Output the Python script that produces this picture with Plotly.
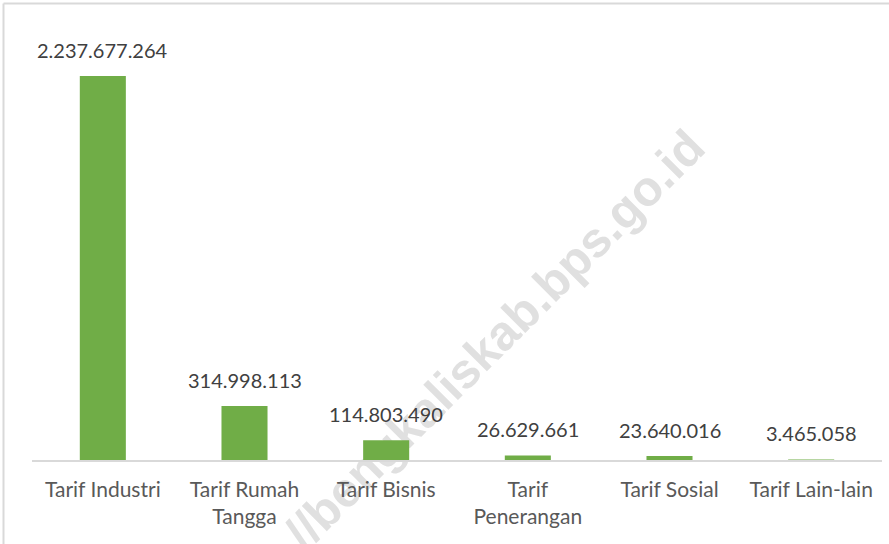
import plotly.graph_objects as go

categories = ["Tarif Industri", "Tarif Rumah<br>Tangga", "Tarif Bisnis",
              "Tarif<br>Penerangan", "Tarif Sosial", "Tarif Lain-lain"]
values = [2237677264, 314998113, 114803490, 26629661, 23640016, 3465058]
value_labels = ["2.237.677.264", "314.998.113", "114.803.490",
                "26.629.661", "23.640.016", "3.465.058"]
watermark = "//bengkaliskab.bps.go.id"

W, H = 889, 544
ML, MR, MT, MB = 32, 7, 20, 84
PW, PH = W - ML - MR, H - MT - MB


def xp(px):
    return (px - ML) / PW


def yp(py):
    return (H - MB - py) / PH


FONT = "Lato, 'Open Sans', sans-serif"

fig = go.Figure()
fig.add_trace(go.Bar(
    x=categories, y=values,
    marker=dict(color="#70AD47", line=dict(width=0)),
    hoverinfo="skip",
))

annotations = []
for c, v, t in zip(categories, values, value_labels):
    annotations.append(dict(
        x=c, y=v, xref="x", yref="y", text=t, showarrow=False,
        yanchor="bottom", yshift=12,
        font=dict(family=FONT, size=20, color="#404040"),
    ))

border = dict(color="#d9d9d9", width=2)
shapes = [
    # outer frame: top and left edges visible in the crop
    dict(type="line", xref="paper", yref="paper",
         x0=xp(3.5), x1=xp(W + 5), y0=yp(3.5), y1=yp(3.5),
         line=border, layer="below"),
    dict(type="line", xref="paper", yref="paper",
         x0=xp(3.5), x1=xp(3.5), y0=yp(3.5), y1=yp(H + 5),
         line=border, layer="below"),
    # watermark
    dict(type="rect", xref="paper", yref="paper",
         x0=xp(481), x1=xp(501), y0=yp(346), y1=yp(326),
         line=dict(width=0), fillcolor="rgba(0,0,0,0)", layer="below",
         label=dict(text=watermark, textangle=-45, textposition="middle center",
                    font=dict(family="'Liberation Sans', Arial, sans-serif",
                              size=49, color="#e0e0e0", weight="bold"))),
]

fig.update_layout(
    width=W, height=H,
    margin=dict(l=ML, r=MR, t=MT, b=MB, pad=0),
    paper_bgcolor="white", plot_bgcolor="rgba(0,0,0,0)",
    showlegend=False,
    bargap=0.675,
    annotations=annotations,
    shapes=shapes,
    xaxis=dict(
        showline=True, linecolor="#d9d9d9", linewidth=1.5,
        showgrid=False, zeroline=False, ticks="",
        tickfont=dict(family=FONT, size=21, color="#595959"),
        ticklabelstandoff=10,
    ),
    yaxis=dict(
        range=[0, 2237677264 * PH / (460 - 76)],
        visible=False, showgrid=False, zeroline=False,
    ),
)

fig.write_html("out.html",
               config={"displayModeBar": False, "staticPlot": True},
               post_script="document.body.style.margin='0';document.body.style.overflow='hidden';")
